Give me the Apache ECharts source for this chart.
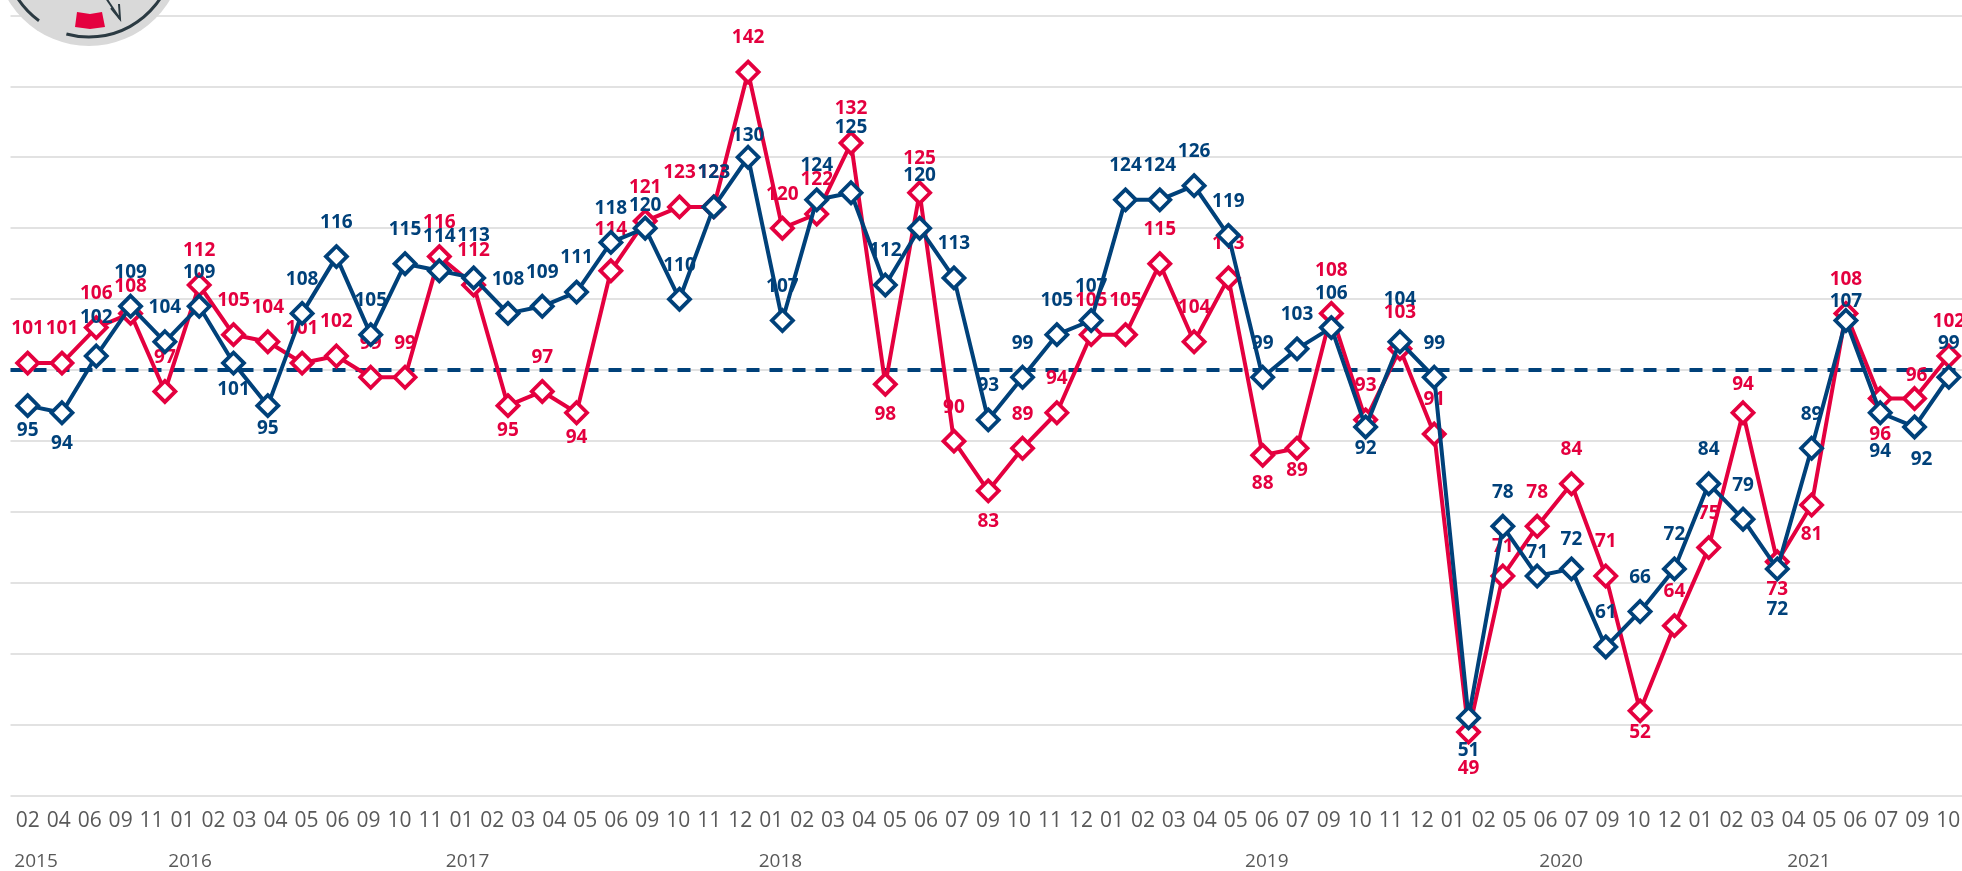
<!DOCTYPE html>
<html>
<head>
<meta charset="utf-8">
<style>html,body{margin:0;padding:0;background:#fff}#c{width:1962px;height:871px}</style>
<script src="https://cdn.jsdelivr.net/npm/echarts@6/dist/echarts.min.js"></script>
</head>
<body>
<div id="c"></div>
<script>
const monthLabels = ['02','04','06','09','11','01','02','03','04','05','06','09','10','11','01','02','03','04','05','06','09','10','11','12','01','02','03','04','05','06','07','09','10','11','12','01','02','03','04','05','06','07','09','10','11','12','01','02','05','06','07','09','10','12','01','02','03','04','05','06','07','09','10'];
const yearLabels = ['2015','2016','2017','2018','2019','2020','2021'];
const yearTicks = [0.27,5.24,14.2,24.3,40,49.5,57.5];
const redValues = [101,101,106,108,97,112,105,104,101,102,99,99,116,112,95,97,94,114,121,123,123,142,120,122,132,98,125,90,83,89,94,105,105,115,104,113,88,89,108,93,103,91,49,71,78,84,71,52,64,75,94,73,81,108,96,96,102];
const blueValues = [95,94,102,109,104,109,101,95,108,116,105,115,114,113,108,109,111,118,120,110,123,130,107,124,125,112,120,113,93,99,105,107,124,124,126,119,99,103,106,92,104,99,51,78,71,72,61,66,72,84,79,72,89,107,94,92,99];
const pointIds = redValues.map((_, i) => i);
const referenceLevel = 100;

// label placement relative to each point (default above), exceptions only
const defaultLabelDy = -34;
const redLabelDy = {3:-27,14:25,16:25,17:-41,25:30,28:31,36:28,37:22,38:-43,40:-36,42:36,43:-29,47:22,50:-28,51:28,52:30,54:36,55:-23};
const blueLabelDy = {0:25,1:31,2:-38,6:27,7:23,13:-42,18:-23,21:-22,24:-65,26:-53,39:22,40:-42,42:33,44:-23,45:-29,51:41,53:-19,54:39,55:33};
const redLabelDx = {55:2};
const blueLabelDx = {55:7};

const RED = '#E4003F', BLUE = '#00417A', GRID = '#D9D9D9', AXIS = '#595959';
const FONT = '"Open Sans", sans-serif';

function makeSeries(name, values, color, dyMap, dxMap, z) {
  return {
    name, type: 'line', xAxisIndex: 0, yAxisIndex: 0, z,
    symbol: 'diamond', symbolSize: 21, showAllSymbol: true,
    lineStyle: { color, width: 4 },
    itemStyle: { color: '#fff', borderColor: color, borderWidth: 3.8 },
    emphasis: { disabled: true },
    animation: false,
    data: values.map((v, i) => ({
      value: v,
      label: {
        show: true, position: 'inside', color, fontFamily: FONT, fontSize: 19, fontWeight: 'bold',
        offset: [dxMap[i] || 0, dyMap[i] !== undefined ? dyMap[i] : defaultLabelDy]
      }
    }))
  };
}

const chart = echarts.init(document.getElementById('c'), null, { renderer: 'canvas' });
chart.setOption({
  animation: false,
  backgroundColor: '#fff',
  grid: [
    { left: 10.5, top: 15.3, width: 1955.5, height: 780.7, outerBoundsMode: 'none' },
    { left: 27.7, top: 15.3, width: 1920.6, height: 780.7, outerBoundsMode: 'none' }
  ],
  xAxis: [
    { gridIndex: 0, type: 'category', data: pointIds, boundaryGap: true, axisLine: { show: false }, axisTick: { show: false }, axisLabel: { show: false }, splitLine: { show: false } },
    { gridIndex: 1, type: 'category', position: 'bottom', data: monthLabels, boundaryGap: false, axisLine: { show: false }, axisTick: { show: false }, splitLine: { show: false },
      axisLabel: { interval: 0, margin: 15, color: AXIS, fontFamily: FONT, fontSize: 21, hideOverlap: false } },
    { gridIndex: 1, type: 'value', position: 'bottom', min: 0, max: 62, axisLine: { show: false }, axisTick: { show: false }, splitLine: { show: false },
      axisLabel: { margin: 56, color: AXIS, fontFamily: FONT, fontSize: 19, customValues: yearTicks,
        formatter: v => yearLabels[yearTicks.indexOf(v)] || '' } }
  ],
  yAxis: [
    { gridIndex: 0, type: 'value', min: 40, max: 150, interval: 10, axisLine: { show: false }, axisTick: { show: false }, axisLabel: { show: false },
      splitLine: { show: true, lineStyle: { color: GRID, width: 1.5 } } },
    { gridIndex: 1, type: 'value', min: 40, max: 150, show: false }
  ],
  series: [
    Object.assign(makeSeries('Red', redValues, RED, redLabelDy, redLabelDx, 3), {
      markLine: { silent: true, symbol: 'none', animation: false, z: 2, label: { show: false },
        lineStyle: { color: BLUE, type: [13, 10], width: 4 }, data: [{ yAxis: referenceLevel }] }
    }),
    makeSeries('Blue', blueValues, BLUE, blueLabelDy, blueLabelDx, 4)
  ],
  graphic: [
    { type: 'circle', silent: true, z: 10, shape: { cx: 89, cy: -48, r: 94 }, style: { fill: '#D9D9D9' } },
    { type: 'arc', silent: true, z: 11, shape: { cx: 89, cy: -48, r: 85, startAngle: 0.3, endAngle: 1.84, clockwise: true }, style: { stroke: '#2B3A42', lineWidth: 3, fill: null } },
    { type: 'arc', silent: true, z: 11, shape: { cx: 89, cy: -48, r: 85, startAngle: 2.2, endAngle: 2.7, clockwise: true }, style: { stroke: '#2B3A42', lineWidth: 3, fill: null } },
    { type: 'polyline', silent: true, z: 11, shape: { points: [[106, -2], [120, 19]] }, style: { stroke: '#2B3A42', lineWidth: 2, fill: null } },
    { type: 'polyline', silent: true, z: 11, shape: { points: [[111, 8], [120, 19], [119, 4]] }, style: { stroke: '#2B3A42', lineWidth: 2, fill: null } },
    { type: 'polygon', silent: true, z: 11, shape: { points: [[77, 12], [90, 14], [102, 12], [105, 27], [90, 29], [75, 27]] }, style: { fill: RED } }
  ]
});
</script>
</body>
</html>
